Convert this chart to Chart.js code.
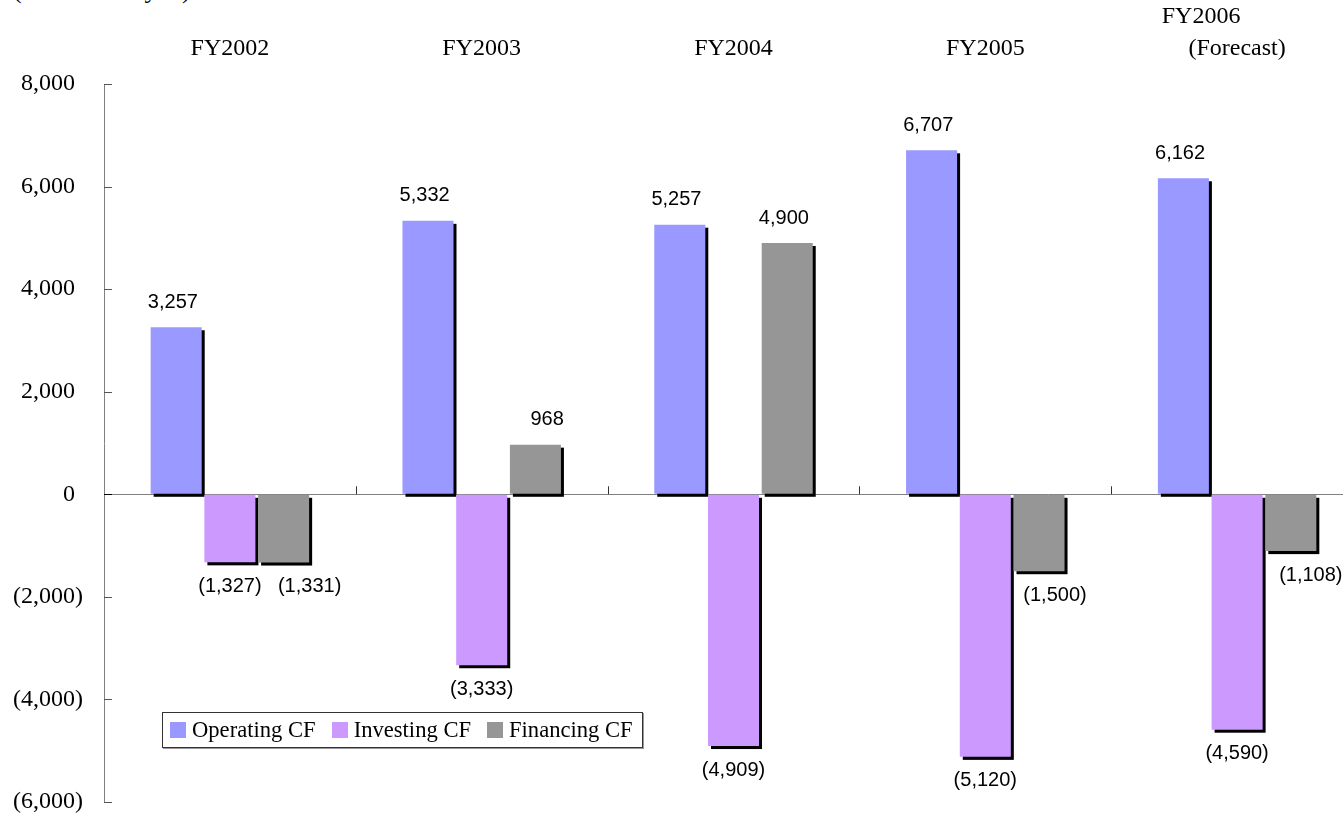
<!DOCTYPE html>
<html lang="en">
<head>
    <meta charset="UTF-8">
    <title>Cash Flows</title>
    <script src="https://cdn.jsdelivr.net/npm/chart.js"></script>
    <style>
        html, body { margin: 0; padding: 0; background: #fff; overflow: hidden; }
        .wrap { position: relative; width: 1343px; height: 816px; overflow: hidden; }
        #cfChart { position: absolute; left: 0; top: 0; }
        .unit {
            position: absolute; left: 13px; top: -25px;
            font: 26px "Liberation Serif", "Times New Roman", serif; color: #000;
            white-space: nowrap;
        }
        .legend {
            position: absolute; left: 162px; top: 712px; width: 472px; height: 34px;
            border: 1px solid #333; box-shadow: 1px 1px 0 #999; background: #fff;
            display: flex; align-items: center; padding-left: 7px; box-sizing: content-box;
            font: 22.6px "Liberation Serif", "Times New Roman", serif; color: #000;
        }
        .legend span.item { display: flex; align-items: center; margin-right: 16px; white-space: nowrap; }
        .legend span.box { width: 16px; height: 16px; margin-right: 6px; display: inline-block; }
    </style>
</head>
<body>
    <div class="wrap">
        <div class="unit">(Millions of yen)</div>
        <canvas id="cfChart" width="1380" height="816"></canvas>
        <div class="legend" id="legend"></div>
    </div>

    <script>
        // Fiscal years (last one is a forecast, shown on two lines)
        const years = ['FY2002', 'FY2003', 'FY2004', 'FY2005', ['FY2006            ', '(Forecast)']];

        // Cash flows, millions of yen
        const operatingCF = [3257, 5332, 5257, 6707, 6162];
        const investingCF = [-1327, -3333, -4909, -5120, -4590];
        const financingCF = [-1331, 968, 4900, -1500, -1108];

        const seriesNames = ['Operating CF', 'Investing CF', 'Financing CF'];
        const seriesColors = ['#9999FF', '#CC99FF', '#969696'];

        const axisMin = -6000;
        const axisMax = 8000;
        const axisStep = 2000;

        // financing labels were dragged sideways a little, per year (px)
        const labelNudge = [[0, 0, 0, 0, 0], [0, 0, 0, 0, 0], [26, 15, 0, 16, 20]];

        // "#,##0_);(#,##0)" style: positives keep room for the closing paren
        function fmt(v) {
            const s = Math.abs(v).toLocaleString('en-US');
            return v < 0 ? '(' + s + ')' : s + '\u2004';
        }

        // Black drop shadow behind every bar
        const barShadow = {
            id: 'barShadow',
            beforeDatasetsDraw(chart) {
                const ctx = chart.ctx;
                ctx.save();
                ctx.fillStyle = '#000';
                chart.data.datasets.forEach((ds, i) => {
                    chart.getDatasetMeta(i).data.forEach(bar => {
                        const p = bar.getProps(['x', 'y', 'base', 'width'], true);
                        const top = Math.min(p.y, p.base);
                        const h = Math.abs(p.base - p.y);
                        ctx.fillRect(p.x - p.width / 2 + 3, top + 3, p.width, h);
                    });
                });
                ctx.restore();
            }
        };

        // Value labels above positive bars and below negative ones
        const valueLabels = {
            id: 'valueLabels',
            afterDatasetsDraw(chart) {
                const ctx = chart.ctx;
                ctx.save();
                ctx.font = '20px "Liberation Sans", Arial, sans-serif';
                ctx.fillStyle = '#000';
                ctx.textAlign = 'center';
                ctx.textBaseline = 'middle';
                chart.data.datasets.forEach((ds, i) => {
                    chart.getDatasetMeta(i).data.forEach((bar, j) => {
                        const v = ds.data[j];
                        const y = v >= 0 ? bar.y - 25 : bar.y + 24;
                        ctx.fillText(fmt(v), bar.x + labelNudge[i][j], y);
                    });
                });
                ctx.restore();
            }
        };

        // Tick marks drawn inside the plot: on the value axis and on the zero line
        const innerTicks = {
            id: 'innerTicks',
            afterDraw(chart) {
                const ctx = chart.ctx;
                const x = chart.scales.x;
                const y = chart.scales.y;
                const left = chart.chartArea.left;
                const zero = y.getPixelForValue(0);
                ctx.save();
                ctx.lineWidth = 1;
                y.ticks.forEach(t => {
                    const py = Math.round(y.getPixelForValue(t.value)) + 0.5;
                    ctx.strokeStyle = t.value === 0 ? '#000' : '#555';
                    ctx.beginPath();
                    ctx.moveTo(left, py);
                    ctx.lineTo(left + 8, py);
                    ctx.stroke();
                });
                ctx.strokeStyle = '#333';
                for (let i = 0; i < years.length - 1; i++) {
                    const px = Math.round((x.getPixelForValue(i) + x.getPixelForValue(i + 1)) / 2) + 0.5;
                    ctx.beginPath();
                    ctx.moveTo(px, zero);
                    ctx.lineTo(px, zero - 8);
                    ctx.stroke();
                }
                ctx.restore();
            }
        };

        const ctx = document.getElementById('cfChart').getContext('2d');
        const cfChart = new Chart(ctx, {
            type: 'bar',
            data: {
                labels: years,
                datasets: [operatingCF, investingCF, financingCF].map((d, i) => ({
                    label: seriesNames[i],
                    data: d,
                    backgroundColor: seriesColors[i],
                    borderWidth: 0,
                    categoryPercentage: 0.64,
                    barPercentage: 0.95
                }))
            },
            options: {
                responsive: false,
                animation: false,
                layout: { padding: { left: 0, top: 0, right: 17, bottom: 14 } },
                plugins: {
                    legend: { display: false },
                    tooltip: { enabled: false }
                },
                scales: {
                    x: {
                        position: 'top',
                        grid: { display: false, drawTicks: false },
                        border: { display: false },
                        ticks: {
                            color: '#000',
                            padding: 20,
                            maxRotation: 0,
                            font: { family: '"Liberation Serif", "Times New Roman", serif', size: 24, lineHeight: 1.3 }
                        },
                        afterFit(s) {
                            s.height = 84;
                            s.paddingLeft = 0;
                            s.paddingRight = 0;
                        }
                    },
                    y: {
                        min: axisMin,
                        max: axisMax,
                        grid: {
                            drawTicks: false,
                            color: c => (c.tick && c.tick.value === 0 ? '#808080' : 'rgba(0,0,0,0)')
                        },
                        border: { display: true, color: '#808080', width: 1 },
                        ticks: {
                            stepSize: axisStep,
                            color: '#000',
                            padding: 21,
                            font: { family: '"Liberation Serif", "Times New Roman", serif', size: 24 },
                            callback: v => fmt(v)
                        },
                        afterFit(s) {
                            s.width = 104;
                            s.paddingTop = 0;
                            s.paddingBottom = 0;
                        }
                    }
                }
            },
            plugins: [barShadow, valueLabels, innerTicks]
        });

        // Legend box built from the datasets
        const legendEl = document.getElementById('legend');
        cfChart.data.datasets.forEach(ds => {
            const item = document.createElement('span');
            item.className = 'item';
            const box = document.createElement('span');
            box.className = 'box';
            box.style.background = ds.backgroundColor;
            item.appendChild(box);
            item.appendChild(document.createTextNode(ds.label));
            legendEl.appendChild(item);
        });
    </script>
</body>
</html>
